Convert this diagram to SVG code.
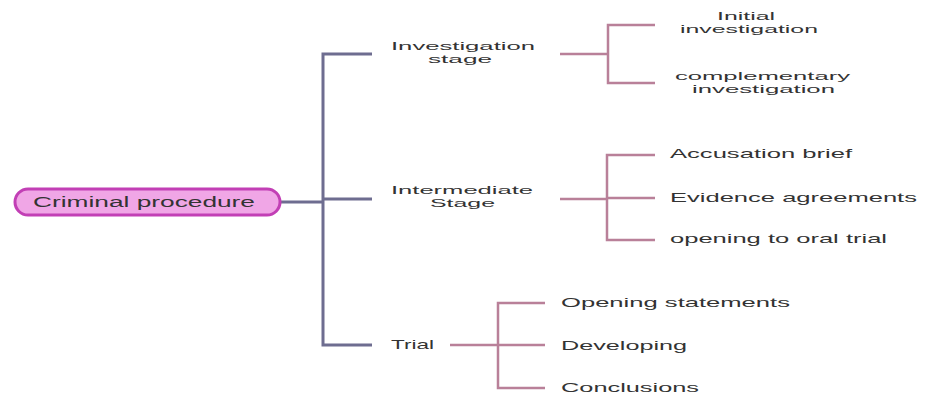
<svg xmlns="http://www.w3.org/2000/svg" width="929" height="394" viewBox="0 0 929 394">
<style>
  .t { font-family: "Liberation Sans", Arial, sans-serif; font-size: 13px; fill: #333333; }
  .t2 { font-family: "Liberation Sans", Arial, sans-serif; font-size: 11.5px; fill: #333333; }
  .main { fill: none; stroke: #6e6d90; stroke-width: 3; }
  .sub { fill: none; stroke: #b98099; stroke-width: 2.5; }
</style>
<rect width="929" height="394" fill="#ffffff"/>
<g id="connectors">
  <path class="main" d="M280 202 H323 M372 54 H323 V345 H372 M323 199 H372"/>
  <path class="sub" d="M560 54 H608 M655 25 H608 V83 H655"/>
  <path class="sub" d="M560 199 H607 M655 155 H607 V240 H655 M607 198 H655"/>
  <path class="sub" d="M450 345 H498 M545 303 H498 V388 H545 M498 345 H545"/>
</g>
<g id="root">
  <rect x="15" y="189" width="265" height="26" rx="13" fill="#f0a6e6" stroke="#c23fb5" stroke-width="3"/>
  <text class="t" x="33" y="207" style="font-size:14px" textLength="222" lengthAdjust="spacingAndGlyphs">Criminal  procedure</text>
</g>
<g id="investigation-stage">
  <text class="t2" x="391" y="50" textLength="144" lengthAdjust="spacingAndGlyphs">Investigation</text>
  <text class="t2" x="428" y="63" textLength="64" lengthAdjust="spacingAndGlyphs">stage</text>
</g>
<g id="intermediate-stage">
  <text class="t2" x="391" y="194" textLength="142" lengthAdjust="spacingAndGlyphs">Intermediate</text>
  <text class="t2" x="430" y="207" textLength="65" lengthAdjust="spacingAndGlyphs">Stage</text>
</g>
<g id="trial">
  <text class="t" x="391" y="349" textLength="43" lengthAdjust="spacingAndGlyphs">Trial</text>
</g>
<g id="initial-investigation">
  <text class="t2" x="717" y="20" textLength="58" lengthAdjust="spacingAndGlyphs">Initial</text>
  <text class="t2" x="680" y="33" textLength="138" lengthAdjust="spacingAndGlyphs">investigation</text>
</g>
<g id="complementary-investigation">
  <text class="t2" x="675" y="80" textLength="175" lengthAdjust="spacingAndGlyphs">complementary</text>
  <text class="t2" x="692" y="93" textLength="143" lengthAdjust="spacingAndGlyphs">investigation</text>
</g>
<g id="accusation-brief">
  <text class="t" x="670" y="158" textLength="182" lengthAdjust="spacingAndGlyphs">Accusation brief</text>
</g>
<g id="evidence-agreements">
  <text class="t" x="670" y="202" textLength="247" lengthAdjust="spacingAndGlyphs">Evidence agreements</text>
</g>
<g id="opening-oral-trial">
  <text class="t" x="670" y="243" textLength="217" lengthAdjust="spacingAndGlyphs">opening to oral trial</text>
</g>
<g id="opening-statements">
  <text class="t" x="561" y="307" textLength="229" lengthAdjust="spacingAndGlyphs">Opening statements</text>
</g>
<g id="developing">
  <text class="t" x="561" y="350" textLength="126" lengthAdjust="spacingAndGlyphs">Developing</text>
</g>
<g id="conclusions">
  <text class="t" x="561" y="392" textLength="138" lengthAdjust="spacingAndGlyphs">Conclusions</text>
</g>
</svg>
